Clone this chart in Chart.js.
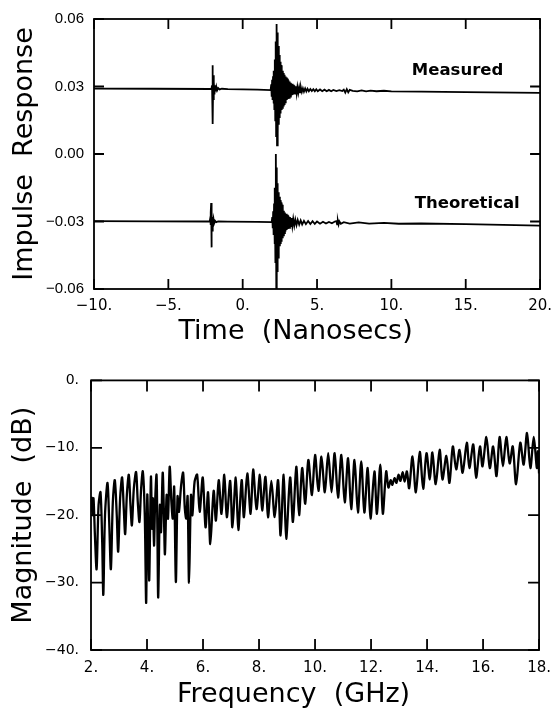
<!DOCTYPE html>
<html>
<head>
<meta charset="utf-8">
<script src="https://cdn.jsdelivr.net/npm/chart.js@4.4.0/dist/chart.umd.min.js"></script>
<style>
  html, body { margin: 0; padding: 0; background: #fff; }
  canvas { display: block; }
</style>
</head>
<body>
<canvas id="impulseChart" width="560" height="360"></canvas>
<canvas id="magnitudeChart" width="560" height="353"></canvas>
<script>
// --- data ---
// impulse response, measured trace (time in ns, response)
const measT = [-10, -6, -2.15, -2.10, -2.06, -2.04, -2.02, -2.00, -1.98, -1.96, -1.93, -1.90, -1.86, -1.82, -1.77, -1.72, -1.65, -1.55, -1.40, -1.0, 1.0, 1.88,
  1.92, 1.95, 1.98, 2.01, 2.04, 2.07, 2.10, 2.13, 2.16, 2.19, 2.22, 2.25, 2.28, 2.31, 2.34, 2.37, 2.40, 2.43, 2.46, 2.49, 2.52, 2.55, 2.58, 2.61, 2.64, 2.67, 2.70,
  2.73, 2.76, 2.79, 2.82, 2.85, 2.88, 2.91, 2.94, 2.97, 3.00, 3.04, 3.08, 3.12, 3.16, 3.20, 3.24, 3.28, 3.32, 3.36, 3.40, 3.44, 3.48, 3.53, 3.58, 3.63, 3.68,
  3.74, 3.80, 3.86, 3.92, 3.98, 4.05, 4.12, 4.20, 4.28, 4.36, 4.45, 4.55, 4.65, 4.75, 4.85, 4.95, 5.05, 5.20, 5.35, 5.50, 5.65, 5.80, 5.95, 6.10, 6.30, 6.50,
  6.70, 6.80, 6.90, 7.00, 7.10, 7.20, 7.40, 7.70, 8.00, 8.30, 8.60, 9.00, 9.50, 10.0, 12.0, 15.0, 20.0];
const measV = [0.0291, 0.0290, 0.0289, 0.0290, 0.0305, 0.0250, 0.0395, 0.0133, 0.0350, 0.0240, 0.0320, 0.0265, 0.0305, 0.0278, 0.0298, 0.0283, 0.0293, 0.0287, 0.0290, 0.0288, 0.0286, 0.0284,
  0.0310, 0.0255, 0.0330, 0.0240, 0.0345, 0.0225, 0.0370, 0.0200, 0.0420, 0.0150, 0.0500, 0.0080, 0.0578, 0.0038, 0.0540, 0.0090, 0.0480, 0.0130, 0.0440, 0.0160, 0.0410, 0.0180, 0.0395, 0.0195, 0.0380, 0.0205, 0.0370,
  0.0215, 0.0360, 0.0222, 0.0352, 0.0230, 0.0345, 0.0236, 0.0340, 0.0240, 0.0335, 0.0245, 0.0328, 0.0250, 0.0322, 0.0255, 0.0316, 0.0260, 0.0312, 0.0263, 0.0308, 0.0266, 0.0304, 0.0268, 0.0301, 0.0270, 0.0298,
  0.0272, 0.0296, 0.0274, 0.0294, 0.0276, 0.0292, 0.0277, 0.0291, 0.0278, 0.0290, 0.0279, 0.0289, 0.0280, 0.0288, 0.0279, 0.0288, 0.0279, 0.0287, 0.0279, 0.0286, 0.0279, 0.0285, 0.0279, 0.0285, 0.0280, 0.0284,
  0.0280, 0.0286, 0.0273, 0.0288, 0.0274, 0.0285, 0.0281, 0.0278, 0.0283, 0.0278, 0.0282, 0.0279, 0.0281, 0.0278, 0.0277, 0.0275, 0.0272];

// impulse response, theoretical trace
const theoT = [-10, -6, -2.30, -2.22, -2.18, -2.16, -2.14, -2.12, -2.10, -2.08, -2.06, -2.03, -2.00, -1.96, -1.92, -1.86, -1.78, -1.65, -1.0, 1.0, 1.95,
  1.99, 2.02, 2.05, 2.08, 2.11, 2.14, 2.17, 2.20, 2.23, 2.26, 2.29, 2.32, 2.35, 2.38, 2.41, 2.44, 2.47, 2.50, 2.53, 2.56, 2.59, 2.62, 2.65, 2.68, 2.71, 2.74, 2.77,
  2.80, 2.84, 2.88, 2.92, 2.96, 3.00, 3.04, 3.08, 3.13, 3.18, 3.23, 3.28, 3.34, 3.40, 3.47, 3.54, 3.62, 3.70, 3.80, 3.90, 4.00, 4.12, 4.25, 4.40, 4.55, 4.70,
  4.85, 5.00, 5.20, 5.40, 5.60, 5.80, 6.00, 6.20, 6.30, 6.35, 6.40, 6.45, 6.50, 6.60, 6.80, 7.20, 7.80, 8.50, 9.50, 10.5, 12.0, 15.0, 20.0];
const theoV = [-0.0298, -0.0299, -0.0300, -0.0300, -0.0285, -0.0315, -0.0260, -0.0218, -0.0415, -0.0260, -0.0340, -0.0280, -0.0320, -0.0290, -0.0308, -0.0297, -0.0303, -0.0300, -0.0301, -0.0302, -0.0303,
  -0.0280, -0.0330, -0.0255, -0.0360, -0.0220, -0.0400, -0.0150, -0.0480, 0.0000, -0.0596, -0.0060, -0.0520, -0.0130, -0.0460, -0.0170, -0.0430, -0.0190, -0.0410, -0.0205, -0.0400, -0.0215, -0.0390, -0.0225, -0.0375, -0.0240, -0.0362, -0.0252,
  -0.0352, -0.0260, -0.0345, -0.0266, -0.0338, -0.0270, -0.0333, -0.0275, -0.0328, -0.0280, -0.0324, -0.0285, -0.0320, -0.0288, -0.0318, -0.0291, -0.0316, -0.0293, -0.0314, -0.0295, -0.0313, -0.0297, -0.0312, -0.0298, -0.0311, -0.0299,
  -0.0311, -0.0300, -0.0310, -0.0301, -0.0309, -0.0302, -0.0308, -0.0300, -0.0298, -0.0313, -0.0297, -0.0313, -0.0299, -0.0310, -0.0303, -0.0309, -0.0304, -0.0309, -0.0306, -0.0310, -0.0309, -0.0312, -0.0318];

// frequency response magnitude (GHz, dB)
const freq = [2.00, 2.03, 2.06, 2.09, 2.14, 2.20, 2.27, 2.34, 2.40, 2.44, 2.50, 2.59, 2.65, 2.71, 2.78, 2.85, 2.92, 2.97, 3.04, 3.11, 3.17, 3.22, 3.28, 3.35,
  3.41, 3.46, 3.53, 3.61, 3.67, 3.73, 3.79, 3.85, 3.92, 3.97, 4.01, 4.05, 4.08, 4.14, 4.18, 4.21, 4.25, 4.29, 4.34, 4.37, 4.40, 4.46, 4.50, 4.56, 4.60, 4.64,
  4.70, 4.75, 4.81, 4.87, 4.92, 4.97, 5.03, 5.09, 5.14, 5.22, 5.29, 5.35, 5.40, 5.45, 5.50, 5.57, 5.62, 5.70, 5.79, 5.88, 5.99, 6.09, 6.18, 6.26, 6.38, 6.46,
  6.56, 6.66, 6.76, 6.85, 6.97, 7.05, 7.17, 7.26, 7.38, 7.46, 7.58, 7.70, 7.79, 7.91, 8.03, 8.11, 8.23, 8.32, 8.44, 8.56, 8.68, 8.77, 8.88, 8.97, 9.11, 9.21,
  9.33, 9.43, 9.54, 9.65, 9.76, 9.89, 10.00, 10.12, 10.23, 10.35, 10.47, 10.59, 10.70, 10.82, 10.94, 11.06, 11.18, 11.29, 11.41, 11.53, 11.65, 11.76, 11.88,
  11.98, 12.12, 12.21, 12.33, 12.42, 12.54, 12.62, 12.70, 12.76, 12.84, 12.91, 12.98, 13.05, 13.13, 13.20, 13.28, 13.36, 13.48, 13.60, 13.74, 13.86, 13.98,
  14.10, 14.19, 14.31, 14.45, 14.55, 14.69, 14.80, 14.92, 15.04, 15.16, 15.27, 15.42, 15.51, 15.65, 15.75, 15.89, 15.98, 16.12, 16.24, 16.36, 16.48, 16.59,
  16.71, 16.83, 16.95, 17.06, 17.18, 17.33, 17.45, 17.57, 17.69, 17.81, 17.92, 17.96, 18.00];
const mag = [-19.5, -17.4, -20.0, -17.5, -23.0, -28.0, -18.5, -16.6, -24.0, -31.8, -20.0, -15.2, -21.0, -28.0, -18.0, -14.8, -20.0, -25.4, -17.5, -14.4, -19.0, -22.8, -17.0, -14.0,
  -18.5, -21.5, -16.0, -13.6, -18.0, -21.0, -16.0, -13.5, -20.0, -33.0, -17.0, -24.0, -29.6, -14.3, -22.0, -17.5, -24.5, -18.0, -14.0, -22.0, -32.2, -18.5, -22.5, -13.7, -19.0, -25.8,
  -17.0, -20.5, -12.8, -18.0, -20.5, -15.8, -29.9, -17.2, -19.5, -15.5, -13.7, -19.0, -20.5, -17.2, -30.0, -17.0, -20.0, -15.0, -14.0, -19.5, -14.4, -21.8, -16.6, -24.3, -16.4, -20.8,
  -14.8, -19.8, -14.0, -20.3, -14.9, -21.8, -14.4, -22.2, -14.8, -20.3, -13.8, -19.8, -13.2, -19.1, -14.0, -19.3, -14.3, -20.3, -14.9, -20.3, -14.8, -23.0, -14.0, -23.5, -14.4, -21.0,
  -12.8, -20.0, -13.0, -18.3, -11.8, -17.0, -11.05, -16.4, -11.3, -16.6, -10.8, -16.6, -10.8, -17.4, -11.05, -18.1, -11.55, -19.1, -11.8, -19.6, -12.0, -19.6, -13.0,
  -20.5, -13.5, -19.8, -12.5, -19.8, -13.5, -15.9, -14.8, -15.5, -14.5, -15.2, -14.0, -14.9, -13.6, -15.0, -13.5, -16.0, -11.3, -16.6, -10.6, -16.1, -10.8,
  -14.7, -10.7, -15.4, -10.3, -14.7, -11.2, -15.2, -9.8, -13.2, -10.3, -13.7, -9.25, -13.0, -9.5, -14.45, -9.8, -12.75, -8.4, -13.0, -9.8, -14.2, -8.4,
  -12.75, -8.4, -12.3, -9.8, -15.4, -9.25, -12.5, -7.8, -13.0, -8.4, -13.0, -10.5, -13.8];

// tick values
const timeTicks = [-10, -5, 0, 5, 10, 15, 20];
const respTicks = [-0.06, -0.03, 0, 0.03, 0.06];
const freqTicks = [2, 4, 6, 8, 10, 12, 14, 16, 18];
const magTicks = [-40, -30, -20, -10, 0];

// trace labels inside the upper plot
const noteText = ['Measured', 'Theoretical'];
const noteX = [14.45, 15.1];
const noteY = [0.0368, -0.0222];

Chart.defaults.color = '#000';
Chart.defaults.animation = false;

const minus = s => String(s).replace('-', '\u2212');

// frame + inward tick marks on all four sides, plus text notes
const frameTicks = {
  id: 'frameTicks',
  afterDraw(chart, args, opts) {
    const { ctx, chartArea: a } = chart;
    const xs = chart.scales.x, ys = chart.scales.y;
    ctx.save();
    ctx.strokeStyle = '#000';
    ctx.lineWidth = 1.8;
    ctx.strokeRect(a.left, a.top, a.right - a.left, a.bottom - a.top);
    ctx.beginPath();
    xs.ticks.forEach(t => {
      const p = xs.getPixelForValue(t.value);
      ctx.moveTo(p, a.bottom); ctx.lineTo(p, a.bottom - opts.len);
      ctx.moveTo(p, a.top); ctx.lineTo(p, a.top + opts.len);
    });
    ys.ticks.forEach(t => {
      const p = ys.getPixelForValue(t.value);
      ctx.moveTo(a.left, p); ctx.lineTo(a.left + opts.len, p);
      ctx.moveTo(a.right, p); ctx.lineTo(a.right - opts.len, p);
    });
    ctx.stroke();
    if (opts.notes) {
      ctx.fillStyle = '#000';
      ctx.font = 'bold 16.5px "DejaVu Sans"';
      ctx.textAlign = 'center';
      ctx.textBaseline = 'middle';
      opts.notes.text.forEach((txt, i) => {
        ctx.fillText(txt, xs.getPixelForValue(opts.notes.x[i]), ys.getPixelForValue(opts.notes.y[i]));
      });
    }
    ctx.restore();
  }
};

const titleFont = { family: '"DejaVu Sans"', size: 27 };
const tickFont = { family: '"DejaVu Sans"', size: 14 };
const xTickFont = { family: '"DejaVu Sans"', size: 15 };

// --- upper plot: impulse response ---
new Chart(document.getElementById('impulseChart'), {
  type: 'line',
  data: {
    datasets: [
      {
        label: 'Measured',
        data: measT.map((t, i) => ({ x: t, y: measV[i] })),
        borderColor: '#000',
        borderWidth: 1.8,
        pointRadius: 0,
        tension: 0
      },
      {
        label: 'Theoretical',
        data: theoT.map((t, i) => ({ x: t, y: theoV[i] })),
        borderColor: '#000',
        borderWidth: 1.8,
        pointRadius: 0,
        tension: 0
      }
    ]
  },
  options: {
    responsive: false,
    layout: { padding: { left: 0, right: 14, top: 15, bottom: 0 } },
    plugins: {
      legend: { display: false },
      tooltip: { enabled: false },
      frameTicks: { len: 10, notes: { text: noteText, x: noteX, y: noteY } }
    },
    scales: {
      x: {
        type: 'linear',
        min: -10,
        max: 20,
        afterBuildTicks: s => { s.ticks = timeTicks.map(v => ({ value: v })); },
        afterFit: s => { s.height = 71; },
        grid: { display: false, drawTicks: false },
        border: { display: false },
        ticks: {
          padding: 8,
          maxRotation: 0,
          font: xTickFont,
          callback: v => minus(v) + '.'
        },
        title: {
          display: true,
          text: 'Time  (Nanosecs)\u00a0\u00a0\u00a0\u00a0\u00a0',
          font: titleFont,
          padding: { top: 0, bottom: 12 }
        }
      },
      y: {
        min: -0.06,
        max: 0.06,
        afterBuildTicks: s => { s.ticks = respTicks.map(v => ({ value: v })); },
        afterFit: s => { s.width = 94; },
        grid: { display: false, drawTicks: false },
        border: { display: false },
        ticks: {
          padding: 10,
          font: { family: '"Liberation Sans"', size: 15 },
          callback: v => (v < 0 ? '\u2212' : '') + Math.abs(v).toFixed(2)
        },
        title: {
          display: true,
          text: 'Impulse  Response',
          font: titleFont,
          padding: { top: 9, bottom: 0 }
        }
      }
    }
  },
  plugins: [frameTicks]
});

// --- lower plot: magnitude of the frequency response ---
new Chart(document.getElementById('magnitudeChart'), {
  type: 'line',
  data: {
    datasets: [{
      label: 'Magnitude',
      data: freq.map((f, i) => ({ x: f, y: mag[i] })),
      borderColor: '#000',
      borderWidth: 2.3,
      pointRadius: 0,
      tension: 0.3
    }]
  },
  options: {
    responsive: false,
    layout: { padding: { left: 0, right: 16, top: 16, bottom: 0 } },
    plugins: {
      legend: { display: false },
      tooltip: { enabled: false },
      frameTicks: { len: 11 }
    },
    scales: {
      x: {
        type: 'linear',
        min: 2,
        max: 18,
        afterBuildTicks: s => { s.ticks = freqTicks.map(v => ({ value: v })); },
        afterFit: s => { s.height = 63; },
        grid: { display: false, drawTicks: false },
        border: { display: false },
        ticks: {
          padding: 9,
          maxRotation: 0,
          font: xTickFont,
          callback: v => v + '.'
        },
        title: {
          display: true,
          text: 'Frequency  (GHz)\u00a0\u00a0\u00a0\u00a0\u00a0',
          font: titleFont,
          padding: { top: 0, bottom: 2 }
        }
      },
      y: {
        min: -40,
        max: 0,
        afterBuildTicks: s => { s.ticks = magTicks.map(v => ({ value: v })); },
        afterFit: s => { s.width = 91; },
        grid: { display: false, drawTicks: false },
        border: { display: false },
        ticks: {
          padding: 12,
          font: tickFont,
          callback: v => minus(v) + '.'
        },
        title: {
          display: true,
          text: 'Magnitude  (dB)',
          font: titleFont,
          padding: { top: 8, bottom: 0 }
        }
      }
    }
  },
  plugins: [frameTicks]
});
</script>
</body>
</html>
